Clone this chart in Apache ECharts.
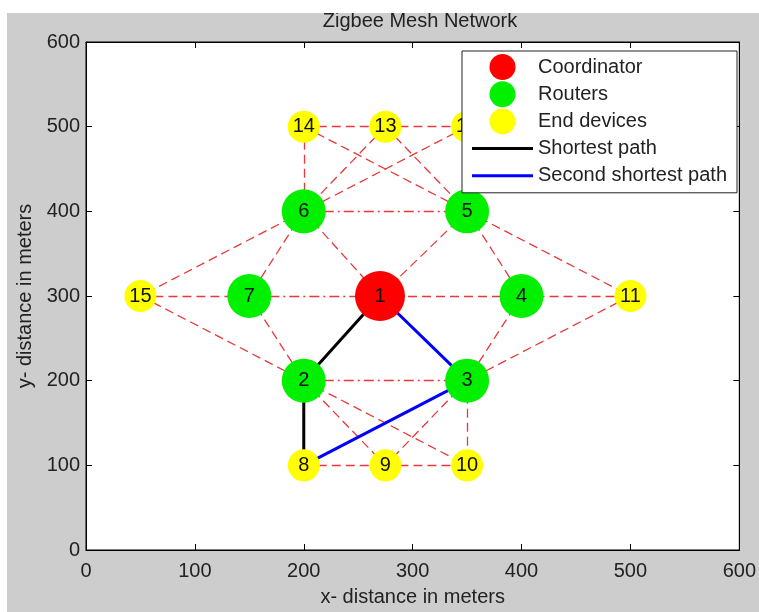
<!DOCTYPE html>
<html>
<head>
<meta charset="utf-8">
<script src="https://cdn.jsdelivr.net/npm/echarts@6/dist/echarts.min.js"></script>
<style>
html,body{margin:0;padding:0;background:#fff;}
#chart{width:759px;height:612px;}
</style>
</head>
<body>
<div id="chart"></div>
<script>
// ---- data ----
const nodeIds = [1, 2, 3, 4, 5, 6, 7, 8, 9, 10, 11, 12, 13, 14, 15];
const nodeX   = [270, 200, 350, 400, 350, 200, 150, 200, 275, 350, 500, 350, 275, 200, 50];
const nodeY   = [300, 200, 200, 300, 400, 400, 300, 100, 100, 100, 300, 500, 500, 500, 300];
const coordinatorIds = [1];
const routerIds = [2, 3, 4, 5, 6, 7];
const endDeviceIds = [8, 9, 10, 11, 12, 13, 14, 15];
const dashedEdges = [
  [14, 13], [13, 12], [14, 6], [14, 5], [13, 6], [13, 5], [12, 6], [12, 5],
  [6, 1], [6, 7], [6, 15], [5, 1], [5, 4], [5, 11], [15, 7], [1, 4], [4, 11],
  [15, 2], [7, 2], [4, 3], [11, 3], [2, 9], [2, 10], [3, 9], [3, 10], [8, 9], [9, 10]
];
const dashDotEdges = [[6, 5], [7, 1], [2, 3]];
const shortestPath = [8, 2, 1];
const secondShortestPath = [1, 3, 8];
const xTicks = [0, 100, 200, 300, 400, 500, 600];
const yTicks = [0, 100, 200, 300, 400, 500, 600];

const FONT = 'Liberation Sans, Arial, sans-serif';
const FS = 20;
const pos = id => [nodeX[id - 1], nodeY[id - 1]];
const nodeData = ids => ids.map(id => ({ value: pos(id), name: String(id) }));
const edgeData = list => list.map(e => ({ coords: [pos(e[0]), pos(e[1])] }));
const pathData = ids => ids.map(pos);

const chart = echarts.init(document.getElementById('chart'));
const labelStyle = { show: true, position: 'inside', formatter: p => p.name, color: '#111', fontSize: FS, fontFamily: FONT };
// legend line icon: full-height box with a 3px stripe in the middle
const lineIcon = 'path://M0,0L61,0L61,0.01L0,0.01Z M0,11.5L61,11.5L61,14.5L0,14.5Z M0,25.99L61,25.99L61,26L0,26Z';

chart.setOption({
  backgroundColor: '#cdcdcd',
  animation: false,
  title: {
    text: 'Zigbee Mesh Network',
    left: 415, top: 6, textAlign: 'center',
    textStyle: { fontSize: FS, fontWeight: 'normal', color: '#222', fontFamily: FONT }
  },
  graphic: [
    { type: 'rect', left: 0, top: 0, shape: { width: 759, height: 13 }, style: { fill: '#fff' }, z: 100 },
    { type: 'rect', left: 0, top: 0, shape: { width: 7, height: 612 }, style: { fill: '#fff' }, z: 100 }
  ],
  grid: { left: 86, right: 15, top: 42, bottom: 55, show: true, backgroundColor: '#fff', borderColor: '#000', borderWidth: 1 },
  legend: {
    data: [
      { name: 'Coordinator' },
      { name: 'Routers' },
      { name: 'End devices' },
      { name: 'Shortest path', icon: lineIcon },
      { name: 'Second shortest path', icon: lineIcon }
    ],
    orient: 'vertical', left: 462, top: 51,
    itemWidth: 61, itemHeight: 26, itemGap: 1.2,
    padding: [3, 10, 4, 10],
    backgroundColor: '#fff', borderColor: '#222', borderWidth: 1, borderRadius: 0,
    textStyle: { fontSize: FS, color: '#222', fontFamily: FONT },
    z: 10
  },
  xAxis: [
    {
      type: 'value', min: xTicks[0], max: xTicks[xTicks.length - 1], interval: 100,
      name: 'x- distance in meters', nameLocation: 'middle', nameGap: 37,
      nameTextStyle: { fontSize: FS, color: '#222', fontFamily: FONT },
      axisLine: { show: true, onZero: false, lineStyle: { color: '#000', width: 1 } },
      axisTick: { show: true, inside: true, length: 6, lineStyle: { color: '#000' } },
      axisLabel: { fontSize: FS, color: '#222', fontFamily: FONT, margin: 11 },
      splitLine: { show: false }
    },
    {
      type: 'value', position: 'top', min: xTicks[0], max: xTicks[xTicks.length - 1], interval: 100,
      axisLine: { show: true, onZero: false, lineStyle: { color: '#000', width: 1 } },
      axisTick: { show: true, inside: true, length: 6, lineStyle: { color: '#000' } },
      axisLabel: { show: false }, splitLine: { show: false }
    }
  ],
  yAxis: [
    {
      type: 'value', min: yTicks[0], max: yTicks[yTicks.length - 1], interval: 100,
      name: 'y- distance in meters', nameLocation: 'middle', nameGap: 47, nameRotate: 90,
      nameTextStyle: { fontSize: FS, color: '#222', fontFamily: FONT },
      axisLine: { show: true, onZero: false, lineStyle: { color: '#000', width: 1 } },
      axisTick: { show: true, inside: true, length: 6, lineStyle: { color: '#000' } },
      axisLabel: { fontSize: FS, color: '#222', fontFamily: FONT, margin: 6 },
      splitLine: { show: false }
    },
    {
      type: 'value', position: 'right', min: yTicks[0], max: yTicks[yTicks.length - 1], interval: 100,
      axisLine: { show: true, onZero: false, lineStyle: { color: '#000', width: 1 } },
      axisTick: { show: true, inside: true, length: 6, lineStyle: { color: '#000' } },
      axisLabel: { show: false }, splitLine: { show: false }
    }
  ],
  series: [
    {
      name: 'edges', type: 'lines', coordinateSystem: 'cartesian2d', silent: true, z: 1,
      lineStyle: { color: '#e8383a', width: 1.3, type: [9, 5], opacity: 1 },
      data: edgeData(dashedEdges)
    },
    {
      name: 'edges2', type: 'lines', coordinateSystem: 'cartesian2d', silent: true, z: 1,
      lineStyle: { color: '#e8383a', width: 1.3, type: [10, 4, 2, 4], opacity: 1 },
      data: edgeData(dashDotEdges)
    },
    {
      name: 'Shortest path', type: 'line', z: 2, symbol: 'none',
      lineStyle: { color: '#000', width: 3 }, itemStyle: { color: '#000' },
      data: pathData(shortestPath)
    },
    {
      name: 'Second shortest path', type: 'line', z: 2, symbol: 'none',
      lineStyle: { color: '#0000ff', width: 3 }, itemStyle: { color: '#0000ff' },
      data: pathData(secondShortestPath)
    },
    {
      name: 'Coordinator', type: 'scatter', z: 3, symbol: 'circle', symbolSize: 50,
      itemStyle: { color: '#ff0000', opacity: 1 }, label: labelStyle,
      data: nodeData(coordinatorIds)
    },
    {
      name: 'Routers', type: 'scatter', z: 3, symbol: 'circle', symbolSize: 44,
      itemStyle: { color: '#00f000', opacity: 1 }, label: labelStyle,
      data: nodeData(routerIds)
    },
    {
      name: 'End devices', type: 'scatter', z: 3, symbol: 'circle', symbolSize: 32,
      itemStyle: { color: '#ffff00', opacity: 1 }, label: labelStyle,
      data: nodeData(endDeviceIds)
    }
  ]
});
</script>
</body>
</html>
